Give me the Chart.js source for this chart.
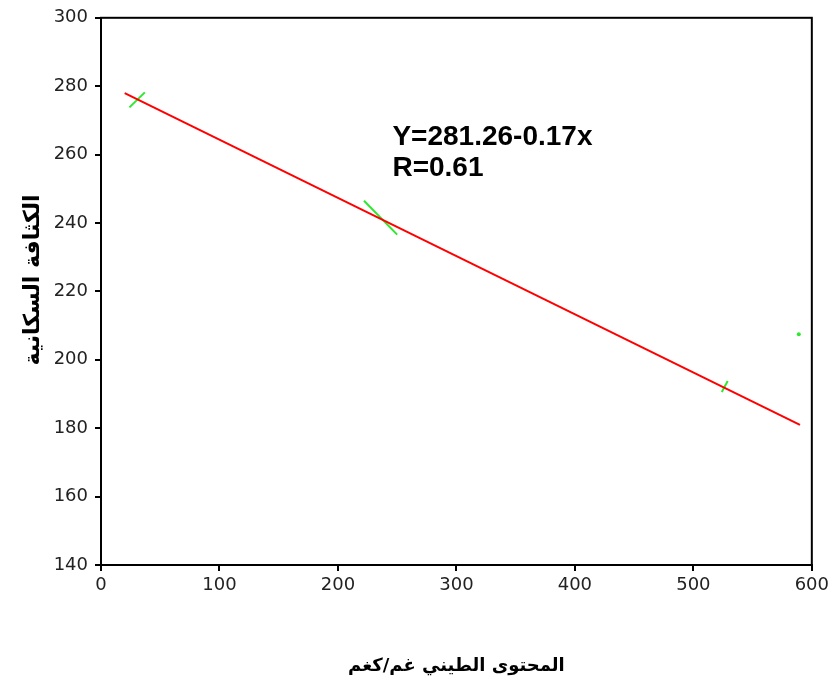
<!DOCTYPE html>
<html>
<head>
<meta charset="utf-8">
<script src="https://cdn.jsdelivr.net/npm/chart.js@4.4.1/dist/chart.umd.min.js"></script>
<style>
  html, body { margin: 0; padding: 0; background: #fff; }
  #wrap { width: 833px; height: 697px; }
</style>
</head>
<body>
<div id="wrap"><canvas id="chart" width="833" height="697"></canvas></div>
<script>
// regression line end points
const fitX = [20, 590];
const fitY = [278, 181];

// short green marks
const markAX = [24, 37];
const markAY = [273.8, 278.2];
const markBX = [222, 250];
const markBY = [246.5, 236.6];
const markCX = [524, 529];
const markCY = [190.6, 193.8];
const dotX = [589];
const dotY = [207.5];

const xTicks = [0, 100, 200, 300, 400, 500, 600];
const yTicks = [140, 160, 180, 200, 220, 240, 260, 280, 300];

const eqLines = ['Y=281.26-0.17x', 'R=0.61'];
const eqX = 246;
const eqY = [262.8, 253.6];

const xTitle = 'المحتوى الطيني غم/كغم';
const yTitle = 'الكثافة السكانية';

const pts = (xs, ys) => xs.map((x, i) => ({ x: x, y: ys[i] }));

const green = '#2ee82e';

const lineSet = (xs, ys, color) => ({
  data: pts(xs, ys),
  showLine: true,
  borderColor: color,
  backgroundColor: color,
  borderWidth: 2,
  pointRadius: 0,
  tension: 0
});

// frame round the plot, the equation text and the y title
const framePlugin = {
  id: 'frame',
  afterDraw(chart) {
    const { ctx, chartArea: a, scales } = chart;
    ctx.save();
    ctx.strokeStyle = '#000';
    ctx.lineWidth = 2;
    ctx.strokeRect(a.left, a.top, a.right - a.left, a.bottom - a.top);
    ctx.fillStyle = '#000';
    ctx.font = 'bold 28px "Liberation Sans", Arial, sans-serif';
    ctx.textBaseline = 'alphabetic';
    ctx.textAlign = 'left';
    eqLines.forEach((t, i) => {
      ctx.fillText(t, scales.x.getPixelForValue(eqX), scales.y.getPixelForValue(eqY[i]));
    });
    // y title, a little above the middle like the original
    ctx.translate(33, 280);
    ctx.rotate(-Math.PI / 2);
    ctx.font = 'bold 22px "DejaVu Sans"';
    ctx.textAlign = 'center';
    ctx.textBaseline = 'middle';
    ctx.fillText(yTitle, 0, 0);
    ctx.restore();
  }
};

new Chart(document.getElementById('chart'), {
  type: 'scatter',
  data: {
    datasets: [
      lineSet(fitX, fitY, '#ff0000'),
      lineSet(markAX, markAY, green),
      lineSet(markBX, markBY, green),
      lineSet(markCX, markCY, green),
      {
        data: pts(dotX, dotY),
        pointRadius: 2,
        pointBorderWidth: 0,
        backgroundColor: green,
        borderColor: green
      }
    ]
  },
  options: {
    responsive: false,
    animation: false,
    layout: { padding: { top: 15, right: 20, left: 0, bottom: 0 } },
    plugins: { legend: { display: false }, tooltip: { enabled: false } },
    scales: {
      x: {
        type: 'linear',
        min: 0,
        max: 600,
        afterFit: (s) => { s.height = 132; },
        afterBuildTicks: (s) => { s.ticks = xTicks.map(v => ({ value: v })); },
        border: { color: '#000', width: 2 },
        grid: { drawOnChartArea: false, color: '#000', lineWidth: 2, tickLength: 6 },
        ticks: { color: '#222', padding: 4, font: { family: '"DejaVu Sans"', size: 18 } },
        title: {
          display: true,
          text: xTitle,
          color: '#000',
          padding: { top: 0, bottom: 20 },
          font: { family: '"DejaVu Sans"', size: 18, weight: 'bold' }
        }
      },
      y: {
        type: 'linear',
        min: 140,
        max: 300,
        afterFit: (s) => { s.width = 101; },
        afterBuildTicks: (s) => { s.ticks = yTicks.map(v => ({ value: v })); },
        border: { color: '#000', width: 2 },
        grid: { drawOnChartArea: false, color: '#000', lineWidth: 2, tickLength: 6 },
        ticks: { color: '#222', padding: 7, font: { family: '"DejaVu Sans"', size: 18 } }
      }
    }
  },
  plugins: [framePlugin]
});
</script>
</body>
</html>
